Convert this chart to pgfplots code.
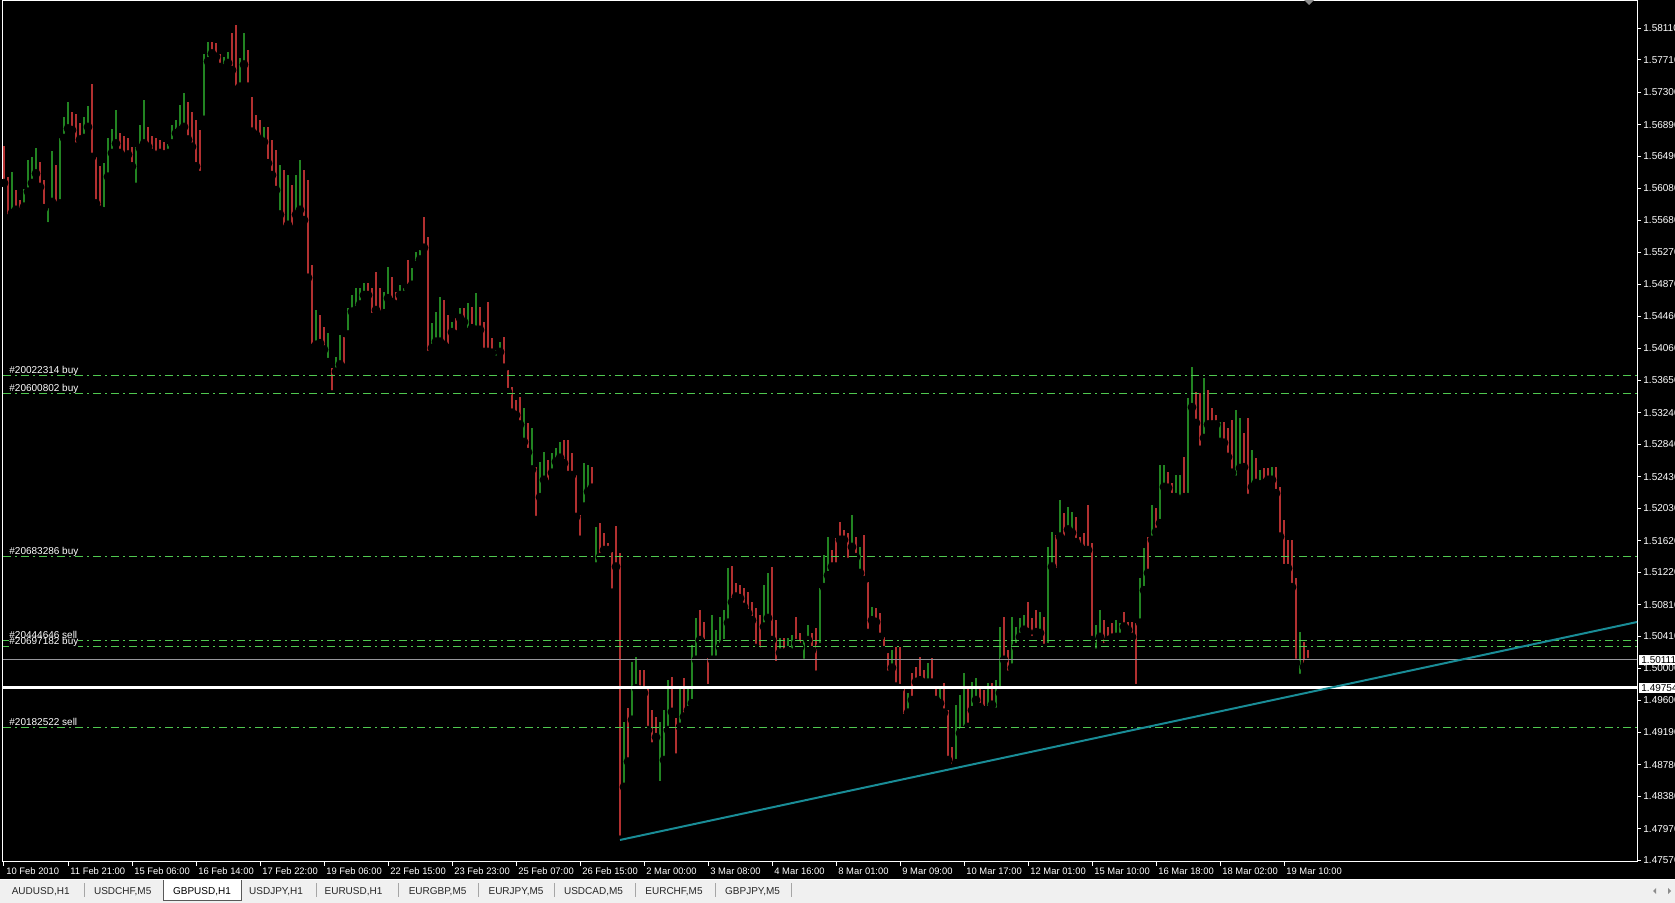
\documentclass[border=0pt]{standalone}
\usepackage{fontspec}
\setmainfont{Liberation Sans}
\usepackage{pgfplots}
\usepackage{pgfplotstable}
\pgfplotsset{compat=1.18}

\definecolor{barup}{RGB}{34,132,34}
\definecolor{bardn}{RGB}{178,48,48}
\definecolor{ordln}{RGB}{80,200,80}
\definecolor{trend}{RGB}{25,140,150}
\definecolor{bidln}{RGB}{150,150,155}
\definecolor{tabbg}{RGB}{240,240,240}

\pgfplotsset{chartframe/.style={
  at={(1.5pt,20.5pt)}, anchor=south west,
  scale only axis, width=817pt, height=430.5pt,
  xmin=-0.5, xmax=816.5, ymin=1.47549, ymax=1.58456,
  clip=false}}

% GBPUSD H1 bars: bar index, low, high, up(1)/down(0)
\pgfplotstableread{
x lo hi up
0 1.5615 1.5662 0
2 1.5570 1.5623 0
4 1.5577 1.5629 1
6 1.5581 1.5606 0
8 1.5577 1.5594 0
10 1.5585 1.5608 1
12 1.5604 1.5644 1
14 1.5615 1.5648 1
16 1.5627 1.5659 1
18 1.5610 1.5642 0
20 1.5583 1.5619 0
22 1.5560 1.5583 1
24 1.5591 1.5655 1
26 1.5583 1.5638 0
28 1.5589 1.5672 1
30 1.5672 1.5699 1
32 1.5684 1.5718 1
34 1.5682 1.5705 0
36 1.5661 1.5703 0
38 1.5670 1.5691 0
40 1.5672 1.5699 1
42 1.5686 1.5712 1
44 1.5648 1.5740 0
46 1.5589 1.5648 0
48 1.5581 1.5636 0
50 1.5579 1.5640 1
52 1.5623 1.5672 1
54 1.5653 1.5684 1
56 1.5665 1.5708 1
58 1.5653 1.5678 0
60 1.5646 1.5674 0
62 1.5651 1.5672 0
64 1.5636 1.5661 0
66 1.5610 1.5661 1
68 1.5659 1.5689 1
70 1.5665 1.5720 1
72 1.5661 1.5686 0
74 1.5653 1.5674 0
76 1.5648 1.5672 0
78 1.5653 1.5670 0
80 1.5651 1.5667 0
82 1.5653 1.5665 1
84 1.5665 1.5689 1
86 1.5678 1.5695 1
88 1.5682 1.5714 1
90 1.5686 1.5729 1
92 1.5670 1.5718 0
94 1.5661 1.5705 0
96 1.5636 1.5695 0
98 1.5625 1.5682 0
100 1.5695 1.5779 1
102 1.5769 1.5794 1
104 1.5779 1.5794 0
106 1.5775 1.5792 0
108 1.5762 1.5779 0
110 1.5760 1.5775 1
112 1.5767 1.5781 1
114 1.5758 1.5805 0
116 1.5733 1.5815 0
118 1.5737 1.5773 1
120 1.5765 1.5805 1
122 1.5737 1.5784 0
124 1.5680 1.5724 0
126 1.5676 1.5701 0
128 1.5670 1.5695 0
130 1.5667 1.5686 1
132 1.5640 1.5686 0
134 1.5625 1.5670 0
136 1.5606 1.5657 0
138 1.5575 1.5638 1
140 1.5556 1.5632 0
142 1.5562 1.5625 1
144 1.5556 1.5613 0
146 1.5575 1.5625 1
148 1.5581 1.5644 1
150 1.5568 1.5632 0
152 1.5495 1.5619 0
154 1.5406 1.5511 0
156 1.5410 1.5454 1
158 1.5412 1.5448 0
160 1.5404 1.5433 0
162 1.5388 1.5425 1
164 1.5347 1.5381 0
166 1.5376 1.5395 1
168 1.5385 1.5423 1
170 1.5381 1.5420 0
172 1.5423 1.5457 1
174 1.5452 1.5473 1
176 1.5454 1.5482 1
178 1.5461 1.5482 1
180 1.5473 1.5488 1
182 1.5473 1.5488 0
184 1.5445 1.5482 0
186 1.5454 1.5502 0
188 1.5448 1.5482 0
190 1.5450 1.5477 1
192 1.5469 1.5509 1
194 1.5464 1.5496 0
196 1.5461 1.5477 0
198 1.5473 1.5486 1
200 1.5473 1.5482 1
202 1.5482 1.5518 0
204 1.5486 1.5507 1
206 1.5511 1.5528 1
208 1.5518 1.5530 1
210 1.5533 1.5572 0
212 1.5397 1.5547 0
214 1.5406 1.5438 1
216 1.5414 1.5452 1
218 1.5414 1.5471 1
220 1.5410 1.5467 0
222 1.5406 1.5448 0
224 1.5426 1.5439 1
226 1.5423 1.5444 0
228 1.5444 1.5457 1
230 1.5439 1.5457 0
232 1.5426 1.5463 1
234 1.5431 1.5458 0
236 1.5429 1.5476 1
238 1.5429 1.5458 0
240 1.5401 1.5439 0
242 1.5401 1.5464 0
244 1.5400 1.5419 0
246 1.5391 1.5404 1
248 1.5401 1.5414 1
250 1.5381 1.5420 0
252 1.5350 1.5378 0
254 1.5324 1.5357 0
256 1.5321 1.5340 0
258 1.5309 1.5344 0
260 1.5287 1.5330 1
262 1.5274 1.5311 0
264 1.5252 1.5305 1
266 1.5188 1.5255 0
268 1.5217 1.5262 1
270 1.5239 1.5274 1
272 1.5233 1.5264 0
274 1.5248 1.5273 1
276 1.5262 1.5279 1
278 1.5267 1.5287 1
280 1.5260 1.5290 0
282 1.5245 1.5290 0
284 1.5245 1.5273 0
286 1.5192 1.5245 0
288 1.5163 1.5195 0
290 1.5205 1.5260 1
292 1.5224 1.5258 1
294 1.5229 1.5255 0
296 1.5129 1.5179 1
298 1.5141 1.5184 0
300 1.5150 1.5172 0
302 1.5150 1.5159 0
304 1.5096 1.5148 0
306 1.5129 1.5181 0
308 1.4783 1.5146 0
310 1.4850 1.4932 1
312 1.4882 1.4950 0
314 1.4935 1.5008 1
316 1.4975 1.5015 1
318 1.4973 1.4998 0
320 1.4969 1.4998 0
322 1.4922 1.4977 0
324 1.4901 1.4947 0
326 1.4913 1.4939 0
328 1.4852 1.4932 1
330 1.4884 1.4947 1
332 1.4922 1.4985 1
334 1.4945 1.4989 0
336 1.4887 1.4937 0
338 1.4926 1.4977 1
340 1.4939 1.4988 0
342 1.4947 1.4975 1
344 1.4956 1.5030 1
346 1.5011 1.5064 1
348 1.5036 1.5074 0
350 1.5032 1.5059 0
352 1.4975 1.5013 0
354 1.5011 1.5068 1
356 1.5011 1.5049 1
358 1.5027 1.5065 1
360 1.5032 1.5074 1
362 1.5058 1.5127 1
364 1.5084 1.5130 0
366 1.5091 1.5108 0
368 1.5089 1.5106 0
370 1.5078 1.5102 0
372 1.5070 1.5097 0
374 1.5061 1.5084 0
376 1.5026 1.5077 0
378 1.5021 1.5068 0
380 1.5053 1.5106 1
382 1.5064 1.5121 1
384 1.5036 1.5129 0
386 1.5004 1.5061 0
388 1.5020 1.5039 1
390 1.5020 1.5039 0
392 1.5023 1.5039 1
394 1.5020 1.5042 1
396 1.5032 1.5065 0
398 1.5027 1.5045 0
400 1.5007 1.5036 1
402 1.5036 1.5055 1
404 1.5023 1.5045 0
406 1.4992 1.5051 0
408 1.5027 1.5102 1
410 1.5103 1.5144 1
412 1.5118 1.5167 1
414 1.5129 1.5150 0
416 1.5129 1.5165 0
418 1.5163 1.5186 0
420 1.5163 1.5176 0
422 1.5135 1.5172 0
424 1.5154 1.5195 1
426 1.5141 1.5167 0
428 1.5121 1.5154 1
430 1.5112 1.5169 0
432 1.5045 1.5110 0
434 1.5061 1.5078 1
436 1.5059 1.5077 0
438 1.5040 1.5070 0
440 1.5023 1.5040 0
442 1.4992 1.5020 0
444 1.5001 1.5023 1
446 1.4977 1.5027 0
448 1.4975 1.5027 0
450 1.4937 1.4977 0
452 1.4944 1.4969 1
454 1.4960 1.4994 0
456 1.4983 1.5002 0
458 1.4985 1.5015 0
460 1.4982 1.4998 0
462 1.4982 1.5007 1
464 1.4982 1.5013 0
466 1.4960 1.4977 0
468 1.4956 1.4977 1
470 1.4944 1.4982 0
472 1.4884 1.4947 0
474 1.4874 1.4901 0
476 1.4880 1.4954 1
478 1.4918 1.4966 1
480 1.4922 1.4994 1
482 1.4926 1.4977 0
484 1.4947 1.4983 1
486 1.4960 1.4988 1
488 1.4951 1.4977 0
490 1.4947 1.4973 0
492 1.4947 1.4982 1
494 1.4954 1.4982 0
496 1.4945 1.4985 1
498 1.4969 1.5053 1
500 1.5011 1.5065 0
502 1.4992 1.5023 0
504 1.5001 1.5065 1
506 1.5027 1.5053 1
508 1.5040 1.5064 1
510 1.5049 1.5068 1
512 1.5046 1.5084 0
514 1.5036 1.5064 0
516 1.5046 1.5074 0
518 1.5045 1.5072 1
520 1.5026 1.5065 0
522 1.5027 1.5154 1
524 1.5129 1.5173 1
526 1.5122 1.5169 0
528 1.5167 1.5214 1
530 1.5163 1.5197 0
532 1.5176 1.5205 1
534 1.5172 1.5198 1
536 1.5160 1.5192 0
538 1.5154 1.5167 0
540 1.5150 1.5172 0
542 1.5150 1.5207 0
544 1.5036 1.5159 0
546 1.5020 1.5055 1
548 1.5040 1.5074 1
550 1.5027 1.5061 0
552 1.5036 1.5053 0
554 1.5039 1.5058 0
556 1.5040 1.5061 1
558 1.5040 1.5058 1
560 1.5053 1.5072 0
562 1.5049 1.5059 0
564 1.5040 1.5059 0
566 1.4975 1.5058 0
568 1.5058 1.5115 1
570 1.5099 1.5153 1
572 1.5121 1.5167 0
574 1.5163 1.5207 1
576 1.5173 1.5203 0
578 1.5184 1.5258 1
580 1.5230 1.5258 1
582 1.5229 1.5249 0
584 1.5217 1.5235 0
586 1.5217 1.5245 1
588 1.5210 1.5245 1
590 1.5217 1.5268 0
592 1.5217 1.5343 1
594 1.5331 1.5382 1
596 1.5311 1.5350 0
598 1.5277 1.5349 0
600 1.5292 1.5368 1
602 1.5309 1.5353 0
604 1.5309 1.5330 0
606 1.5309 1.5321 0
608 1.5287 1.5312 1
610 1.5286 1.5312 0
612 1.5268 1.5305 0
614 1.5248 1.5315 0
616 1.5239 1.5328 1
618 1.5254 1.5317 1
620 1.5255 1.5298 0
622 1.5216 1.5317 0
624 1.5230 1.5277 1
626 1.5235 1.5267 0
628 1.5233 1.5252 1
630 1.5235 1.5254 0
632 1.5239 1.5254 0
634 1.5239 1.5255 1
636 1.5222 1.5255 0
638 1.5167 1.5230 0
640 1.5127 1.5188 0
642 1.5127 1.5163 0
644 1.5103 1.5163 0
646 1.5007 1.5115 0
648 1.4988 1.5046 1
650 1.5002 1.5034 0
652 1.5008 1.5023 0
}\bars

\begin{document}
\begin{tikzpicture}
\useasboundingbox (0,0) rectangle (837.5pt,451.5pt);
\clip (0,0) rectangle (837.5pt,451.5pt);
\fill[black] (0,0) rectangle (837.5pt,451.5pt);

% tab bar
\fill[tabbg] (0,0) rectangle (837.5pt,11.5pt);
\draw[white, line width=0.5pt] (0,11.75pt) -- (837.5pt,11.75pt);
\fill[white] (81.5pt,1pt) rectangle (120.5pt,11.5pt);
\draw[black!65, line width=0.5pt] (81.5pt,11.5pt) -- (81.5pt,1pt) -- (120.5pt,1pt) -- (120.5pt,11.5pt);
\foreach \sx in {42,158,199,239,277,317.5,357.5,395.5}
  \draw[black!35, line width=0.5pt] (\sx pt,3pt) -- (\sx pt,9.75pt);
\begin{scope}[every node/.style={font=\fontsize{5}{6}\selectfont, text=black!85, inner sep=0pt}]
\node at (20.35pt,5.6pt) {AUDUSD,H1};
\node at (61.35pt,5.6pt) {USDCHF,M5};
\node[text=black] at (101pt,5.6pt) {GBPUSD,H1};
\node at (138pt,5.6pt) {USDJPY,H1};
\node at (176.75pt,5.6pt) {EURUSD,H1};
\node at (218.8pt,5.6pt) {EURGBP,M5};
\node at (258pt,5.6pt) {EURJPY,M5};
\node at (296.75pt,5.6pt) {USDCAD,M5};
\node at (337pt,5.6pt) {EURCHF,M5};
\node at (376.3pt,5.6pt) {GBPJPY,M5};
\end{scope}
\fill[black!45] (828pt,7.5pt) -- (828pt,4.5pt) -- (826.5pt,6pt) -- cycle;
\fill[black!45] (834pt,7.5pt) -- (834pt,4.5pt) -- (835.5pt,6pt) -- cycle;

% price bars with the axis frame, ticks and labels
\begin{axis}[
  chartframe,
  axis line style={white, line width=0.5pt},
  tick style={white, line width=0.5pt},
  tick align=outside, major tick length=2pt,
  xtick pos=bottom, ytick pos=right, yticklabel pos=right,
  scaled y ticks=false,
  xtick={0,32,...,640},
  xticklabels={10 Feb 2010,11 Feb 21:00,15 Feb 06:00,16 Feb 14:00,17 Feb 22:00,19 Feb 06:00,22 Feb 15:00,23 Feb 23:00,25 Feb 07:00,26 Feb 15:00,2 Mar 00:00,3 Mar 08:00,4 Mar 16:00,8 Mar 01:00,9 Mar 09:00,10 Mar 17:00,12 Mar 01:00,15 Mar 10:00,16 Mar 18:00,18 Mar 02:00,19 Mar 10:00},
  ytick={1.5811,1.5771,1.5730,1.5689,1.5649,1.5608,1.5568,1.5527,1.5487,1.5446,1.5406,1.5365,1.5324,1.5284,1.5243,1.5203,1.5162,1.5122,1.5081,1.5041,1.5000,1.4960,1.4919,1.4878,1.4838,1.4797,1.4757},
  yticklabels={1.58110,1.57710,1.57300,1.56890,1.56490,1.56080,1.55680,1.55270,1.54870,1.54460,1.54060,1.53650,1.53240,1.52840,1.52430,1.52030,1.51620,1.51220,1.50810,1.50410,1.50000,1.49600,1.49190,1.48780,1.48380,1.47970,1.47570},
  ticklabel style={text=white, inner sep=0pt, font=\fontsize{5}{6}\selectfont},
  xticklabel style={anchor=north west, xshift=1pt, yshift=-0.75pt, font=\fontsize{4.7}{5.5}\selectfont},
  yticklabel style={anchor=west, xshift=1pt},
]
\addplot[only marks, mark=none, forget plot,
  restrict expr to domain={\thisrow{up}}{0.5:1.5},
  error bars/.cd, y dir=plus, y explicit, error mark=none,
  error bar style={draw=barup, line width=0.95pt}]
  table[x=x, y=lo, y error expr=\thisrow{hi}-\thisrow{lo}] {\bars};
\addplot[only marks, mark=none, forget plot,
  restrict expr to domain={\thisrow{up}}{-0.5:0.5},
  error bars/.cd, y dir=plus, y explicit, error mark=none,
  error bar style={draw=bardn, line width=0.95pt}]
  table[x=x, y=lo, y error expr=\thisrow{hi}-\thisrow{lo}] {\bars};
\end{axis}

% chart objects drawn over the bars
\begin{axis}[chartframe, hide axis]
\addplot[ordln, line width=0.5pt, dash pattern=on 4pt off 2pt on 1pt off 2pt] coordinates {(-0.5,1.53706) (816.5,1.53706)};
\addplot[ordln, line width=0.5pt, dash pattern=on 4pt off 2pt on 1pt off 2pt] coordinates {(-0.5,1.53478) (816.5,1.53478)};
\addplot[ordln, line width=0.5pt, dash pattern=on 4pt off 2pt on 1pt off 2pt] coordinates {(-0.5,1.51419) (816.5,1.51419)};
\addplot[ordln, line width=0.5pt, dash pattern=on 4pt off 2pt on 1pt off 2pt] coordinates {(-0.5,1.50349) (816.5,1.50349)};
\addplot[ordln, line width=0.5pt, dash pattern=on 4pt off 2pt on 1pt off 2pt] coordinates {(-0.5,1.50273) (816.5,1.50273)};
\addplot[ordln, line width=0.5pt, dash pattern=on 4pt off 2pt on 1pt off 2pt] coordinates {(-0.5,1.49259) (816.5,1.49259)};
\addplot[bidln, line width=0.5pt] coordinates {(-0.5,1.50111) (816.5,1.50111)};
\addplot[white, line width=1.5pt] coordinates {(-0.5,1.49754) (816.5,1.49754)};
\addplot[trend, line width=1pt] coordinates {(308,1.47828) (816.5,1.50589)};

\begin{scope}[every node/.style={anchor=base west, inner sep=0pt, text=white, font=\fontsize{5}{6}\selectfont, yshift=1pt}]
\node at (axis cs:2.5,1.53706) {\#20022314 buy};
\node at (axis cs:2.5,1.53478) {\#20600802 buy};
\node at (axis cs:2.5,1.51419) {\#20683286 buy};
\node at (axis cs:2.5,1.50349) {\#20444646 sell};
\node[fill=black] at (axis cs:2.5,1.50273) {\#20697182 buy};
\node at (axis cs:2.5,1.49259) {\#20182522 sell};
\end{scope}
\begin{scope}[every node/.style={anchor=west, fill=white, text=black, inner xsep=1pt, inner ysep=0.7pt, xshift=1pt, font=\fontsize{5}{6}\selectfont}]
\node at (axis cs:816.5,1.50111) {1.50111};
\node at (axis cs:816.5,1.49754) {1.49754};
\end{scope}
\end{axis}

% chart shift marker
\fill[black!45] (652pt,451.5pt) -- (657pt,451.5pt) -- (654.5pt,449pt) -- cycle;
\end{tikzpicture}
\end{document}
